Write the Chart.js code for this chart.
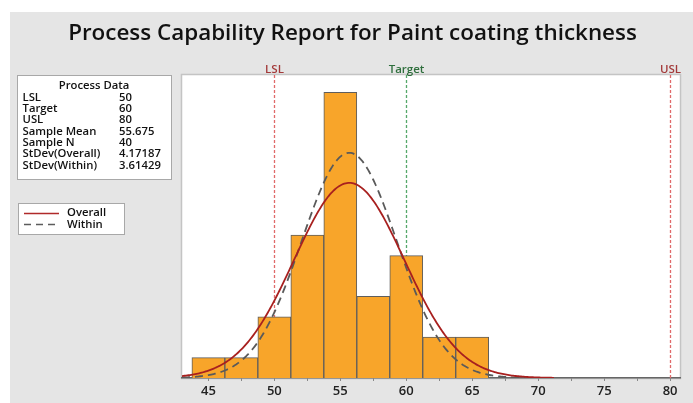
<!DOCTYPE html>
<html>
<head>
<meta charset="utf-8">
<script src="https://cdn.jsdelivr.net/npm/chart.js@4.4.1/dist/chart.umd.min.js"></script>
<style>
  html, body { margin: 0; padding: 0; background: #fff; }
  canvas { display: block; }
</style>
</head>
<body>
<canvas id="cap" width="693" height="403"></canvas>
<script>
// histogram bins (width 2.5) and counts
const binStarts = [43.75, 46.25, 48.75, 51.25, 53.75, 56.25, 58.75, 61.25, 63.75];
const binCounts = [1, 1, 3, 7, 14, 4, 6, 2, 2];
const binWidth = 2.5;

// process data table
const processLabels = ["LSL", "Target", "USL", "Sample Mean", "Sample N", "StDev(Overall)", "StDev(Within)"];
const processValues = ["50", "60", "80", "55.675", "40", "4.17187", "3.61429"];

const lsl = 50, target = 60, usl = 80;
const sampleMean = 55.675, sampleN = 40;
const sdOverall = 4.17187, sdWithin = 3.61429;
const overallEnd = 71.2, withinEnd = 69;

const xTicks = [45, 50, 55, 60, 65, 70, 75, 80];

const FONT = "'Open Sans', 'Noto Sans', sans-serif";

// bars in density units so they share the y scale with the fitted curves
const bars = binStarts.map((s, k) => ({ x: s + binWidth / 2, y: binCounts[k] / (sampleN * binWidth) }));

function normalCurve(mu, sd, from, to) {
  const pts = [];
  for (let x = from; x <= to + 1e-9; x += 0.1) {
    const z = (x - mu) / sd;
    pts.push({ x: x, y: Math.exp(-0.5 * z * z) / (sd * Math.sqrt(2 * Math.PI)) });
  }
  return pts;
}

const decor = {
  id: 'decor',
  beforeDraw(chart) {
    const c = chart.ctx;
    c.save();
    c.fillStyle = '#fff';
    c.fillRect(0, 0, chart.width, chart.height);
    c.fillStyle = '#e5e5e5';
    c.fillRect(10, 12, chart.width - 10, chart.height - 12);

    // plot frame
    const a = chart.chartArea;
    c.fillStyle = '#fff';
    c.fillRect(a.left, a.top, a.right - a.left, a.bottom - a.top);
    c.strokeStyle = '#c4c4c4';
    c.lineWidth = 1.5;
    c.strokeRect(a.left - 0.5, a.top - 0.5, a.right - a.left + 1, a.bottom - a.top + 1);

    // title
    const title = "Process Capability Report for Paint coating thickness";
    c.font = "600 20px " + FONT;
    const w = c.measureText(title).width;
    const size = 20 * 569 / w;
    c.font = "600 " + size.toFixed(2) + "px " + FONT;
    c.fillStyle = '#111';
    c.textAlign = 'center';
    c.textBaseline = 'alphabetic';
    c.fillText(title, 352.5, 40);

    // process data box
    c.fillStyle = '#fff';
    c.fillRect(17, 75, 155, 105);
    c.strokeStyle = '#a8a8a8';
    c.lineWidth = 1;
    c.strokeRect(17.5, 75.5, 154, 104);
    c.fillStyle = '#111';
    c.font = "600 11.3px " + FONT;
    c.textBaseline = 'middle';
    c.textAlign = 'center';
    c.fillText("Process Data", 94, 86);
    c.textAlign = 'left';
    processLabels.forEach((lab, k) => {
      const y = 97.5 + k * 11.35;
      c.fillText(lab, 22.5, y);
      c.fillText(processValues[k], 119, y);
    });

    // legend box
    c.fillStyle = '#fff';
    c.fillRect(18, 203, 107, 32);
    c.strokeStyle = '#a8a8a8';
    c.strokeRect(18.5, 203.5, 106, 31);
    c.lineWidth = 1.6;
    c.strokeStyle = '#b02a2a';
    c.beginPath(); c.moveTo(24, 213.5); c.lineTo(59, 213.5); c.stroke();
    c.strokeStyle = '#5c5c5c';
    c.setLineDash([7, 5]);
    c.beginPath(); c.moveTo(24, 224.5); c.lineTo(59, 224.5); c.stroke();
    c.setLineDash([]);
    c.fillStyle = '#111';
    c.font = "600 11.3px " + FONT;
    c.fillText("Overall", 67, 213);
    c.fillText("Within", 67, 224.5);
    c.restore();
  },
  beforeDatasetsDraw(chart) {
    // spec limit lines sit behind the bars
    const c = chart.ctx, a = chart.chartArea, xs = chart.scales.x;
    const specs = [
      { v: lsl, label: "LSL", line: '#e06a6a', text: '#a33a3a' },
      { v: target, label: "Target", line: '#55a86a', text: '#2e6e3c' },
      { v: usl, label: "USL", line: '#e06a6a', text: '#a33a3a' }
    ];
    c.save();
    specs.forEach(s => {
      const px = Math.round(xs.getPixelForValue(s.v)) + 0.5;
      c.strokeStyle = s.line;
      c.lineWidth = 1.3;
      c.setLineDash([3, 2]);
      c.beginPath(); c.moveTo(px, a.top); c.lineTo(px, a.bottom); c.stroke();
      c.setLineDash([]);
      c.fillStyle = s.text;
      c.font = "600 11.5px " + FONT;
      c.textAlign = 'center';
      c.textBaseline = 'alphabetic';
      c.fillText(s.label, px, 73);
    });
    c.restore();
  }
};

new Chart(document.getElementById('cap'), {
  data: {
    datasets: [
      {
        type: 'line',
        label: 'Overall',
        data: normalCurve(sampleMean, sdOverall, 43, overallEnd),
        borderColor: '#a8201f',
        borderWidth: 1.8,
        pointRadius: 0,
        tension: 0,
        order: 1
      },
      {
        type: 'line',
        label: 'Within',
        data: normalCurve(sampleMean, sdWithin, 43, withinEnd),
        borderColor: '#5a5a5a',
        borderWidth: 1.8,
        borderDash: [8, 5],
        pointRadius: 0,
        tension: 0,
        order: 2
      },
      {
        type: 'bar',
        label: 'Thickness',
        data: bars,
        backgroundColor: '#f8a52a',
        borderColor: '#5e5e5e',
        borderWidth: 1,
        barPercentage: 1,
        categoryPercentage: 1,
        grouped: false,
        order: 3
      }
    ]
  },
  options: {
    responsive: false,
    animation: false,
    devicePixelRatio: 1,
    layout: { padding: { left: 182, right: 13, top: 75, bottom: 0 } },
    plugins: { legend: { display: false }, tooltip: { enabled: false } },
    scales: {
      x: {
        type: 'linear',
        offset: false,
        min: 43,
        max: 80.75,
        afterFit(scale) { scale.height = 25; },
        afterBuildTicks(scale) {
          const t = [];
          for (let v = 45; v <= 80; v += 2.5) t.push({ value: v });
          scale.ticks = t;
        },
        ticks: {
          autoSkip: false,
          maxRotation: 0,
          padding: 2,
          color: '#222',
          font: { family: FONT, size: 13, weight: '600' },
          callback: v => (xTicks.includes(v) ? String(v) : '')
        },
        grid: { drawOnChartArea: false, offset: false, tickLength: 3, color: '#666', tickColor: '#888' },
        border: { color: '#666', width: 1.5 }
      },
      y: {
        display: false,
        min: 0,
        max: 0.1485
      }
    }
  },
  plugins: [decor]
});
</script>
</body>
</html>
